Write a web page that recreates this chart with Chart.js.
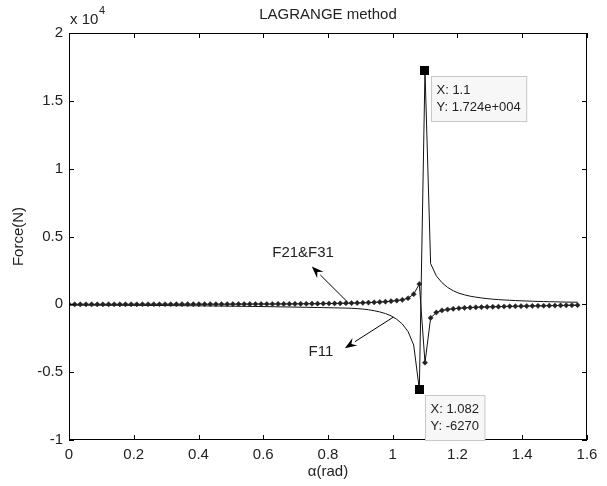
<!DOCTYPE html>
<html>
<head>
<meta charset="utf-8">
<script src="https://cdn.jsdelivr.net/npm/chart.js@4.4.1/dist/chart.umd.min.js"></script>
<style>
  html, body { margin: 0; padding: 0; background: #fff; }
</style>
</head>
<body>
<canvas id="lagrangeChart" width="607" height="486"></canvas>
<script>
// alpha in rad, one point per degree (0..90 deg)
const alpha = [
    0.0000, 0.0175, 0.0349, 0.0524, 0.0698, 0.0873, 0.1047, 0.1222, 0.1396, 0.1571,
    0.1745, 0.1920, 0.2094, 0.2269, 0.2443, 0.2618, 0.2793, 0.2967, 0.3142, 0.3316,
    0.3491, 0.3665, 0.3840, 0.4014, 0.4189, 0.4363, 0.4538, 0.4712, 0.4887, 0.5061,
    0.5236, 0.5411, 0.5585, 0.5760, 0.5934, 0.6109, 0.6283, 0.6458, 0.6632, 0.6807,
    0.6981, 0.7156, 0.7330, 0.7505, 0.7679, 0.7854, 0.8029, 0.8203, 0.8378, 0.8552,
    0.8727, 0.8901, 0.9076, 0.9250, 0.9425, 0.9599, 0.9774, 0.9948, 1.0123, 1.0297,
    1.0472, 1.0647, 1.0821, 1.0996, 1.1170, 1.1345, 1.1519, 1.1694, 1.1868, 1.2043,
    1.2217, 1.2392, 1.2566, 1.2741, 1.2915, 1.3090, 1.3265, 1.3439, 1.3614, 1.3788,
    1.3963, 1.4137, 1.4312, 1.4486, 1.4661, 1.4835, 1.5010, 1.5184, 1.5359, 1.5533,
    1.5708
];

// F11 (plain line)
const f11 = [
    -60, -61, -62, -63, -64, -66, -67, -69, -70, -72,
    -74, -76, -78, -80, -82, -85, -87, -90, -93, -96,
    -99, -102, -106, -110, -114, -118, -122, -127, -132, -137,
    -142, -147, -152, -158, -164, -170, -176, -183, -190, -197,
    -204, -211, -218, -226, -234, -242, -250, -259, -268, -278,
    -290, -315, -350, -400, -470, -560, -680, -850, -1100, -1450,
    -2000, -3000, -6270, 17240, 3000, 2100, 1600, 1250, 1000, 820,
    700, 600, 530, 470, 420, 380, 350, 320, 300, 280,
    260, 245, 230, 215, 205, 195, 185, 175, 165, 160,
    155
];

// F21 & F31 (line with markers)
const f21f31 = [
    0, 0, 0, 1, 1, 1, 2, 2, 2, 3,
    3, 4, 4, 5, 5, 6, 6, 7, 7, 8,
    8, 9, 10, 10, 11, 12, 13, 14, 15, 16,
    17, 18, 19, 21, 22, 24, 26, 28, 30, 33,
    36, 39, 42, 46, 50, 55, 60, 66, 73, 81,
    90, 101, 114, 129, 147, 170, 198, 232, 275, 330,
    450, 750, 1500, -4300, -1000, -600, -450, -380, -330, -290,
    -260, -240, -220, -205, -190, -180, -170, -160, -150, -142,
    -135, -128, -120, -112, -105, -98, -90, -82, -75, -68,
    -60
];

const xTickLabels = ['0', '0.2', '0.4', '0.6', '0.8', '1', '1.2', '1.4', '1.6'];
const yTickLabels = ['-1', '-0.5', '0', '0.5', '1', '1.5', '2'];

// data tips: [x, y, line1, line2]
const dataTips = [
    [1.0996, 17240, 'X: 1.1', 'Y: 1.724e+004'],
    [1.0821, -6270, 'X: 1.082', 'Y: -6270']
];

// text arrows: label, label position, arrow tail, arrow head (data units)
const arrowNotes = [
    { text: 'F21&F31', at: [0.723, 3790], from: [0.862, 130], to: [0.750, 2790] },
    { text: 'F11', at: [0.778, -3500], from: [1.002, -940], to: [0.852, -3230] }
];

const FONT = '"Liberation Sans", Arial, sans-serif';

function toXY(xs, ys) {
    return xs.map((v, i) => ({ x: v, y: ys[i] }));
}

function drawArrow(ctx, x1, y1, x2, y2) {
    const ang = Math.atan2(y2 - y1, x2 - x1);
    const len = 12, half = 4.5;
    const bx = x2 - len * Math.cos(ang), by = y2 - len * Math.sin(ang);
    ctx.beginPath();
    ctx.moveTo(x1, y1);
    ctx.lineTo(bx, by);
    ctx.stroke();
    ctx.beginPath();
    ctx.moveTo(x2, y2);
    ctx.lineTo(bx + half * Math.sin(ang), by - half * Math.cos(ang));
    ctx.lineTo(x2 - 0.65 * len * Math.cos(ang), y2 - 0.65 * len * Math.sin(ang));
    ctx.lineTo(bx - half * Math.sin(ang), by + half * Math.cos(ang));
    ctx.closePath();
    ctx.fill();
}

const decorations = {
    id: 'decorations',
    afterDraw(chart) {
        const { ctx, chartArea: a, scales: { x, y } } = chart;
        ctx.save();
        ctx.strokeStyle = '#000';
        ctx.fillStyle = '#000';
        ctx.lineWidth = 1;

        // axes box
        ctx.strokeRect(a.left + 0.5, a.top + 0.5, a.right - a.left - 1, a.bottom - a.top - 1);

        // inward ticks on all four sides
        ctx.beginPath();
        x.ticks.forEach(t => {
            const px = Math.round(x.getPixelForValue(t.value)) + 0.5;
            ctx.moveTo(px, a.bottom); ctx.lineTo(px, a.bottom - 5);
            ctx.moveTo(px, a.top); ctx.lineTo(px, a.top + 5);
        });
        y.ticks.forEach(t => {
            const py = Math.round(y.getPixelForValue(t.value)) + 0.5;
            ctx.moveTo(a.left, py); ctx.lineTo(a.left + 5, py);
            ctx.moveTo(a.right, py); ctx.lineTo(a.right - 5, py);
        });
        ctx.stroke();

        // title, exponent, axis labels
        ctx.fillStyle = '#222';
        ctx.textBaseline = 'middle';
        ctx.textAlign = 'center';
        ctx.font = '15px ' + FONT;
        ctx.fillText('LAGRANGE method', (a.left + a.right) / 2, 15);
        ctx.fillText('\u03b1(rad)', (a.left + a.right) / 2, 472);
        ctx.save();
        ctx.translate(19, (a.top + a.bottom) / 2);
        ctx.rotate(-Math.PI / 2);
        ctx.fillText('Force(N)', 0, 0);
        ctx.restore();
        ctx.textAlign = 'left';
        ctx.fillText('x 10', a.left + 1, 20);
        ctx.font = '11px ' + FONT;
        ctx.fillText('4', a.left + 30, 11);

        // arrows with labels
        ctx.fillStyle = '#000';
        ctx.strokeStyle = '#000';
        arrowNotes.forEach(n => {
            drawArrow(ctx,
                x.getPixelForValue(n.from[0]), y.getPixelForValue(n.from[1]),
                x.getPixelForValue(n.to[0]), y.getPixelForValue(n.to[1]));
            ctx.fillStyle = '#222';
            ctx.font = '15px ' + FONT;
            ctx.textAlign = 'center';
            ctx.fillText(n.text, x.getPixelForValue(n.at[0]), y.getPixelForValue(n.at[1]));
            ctx.fillStyle = '#000';
        });

        // data tips
        ctx.font = '13px ' + FONT;
        ctx.textAlign = 'left';
        dataTips.forEach(d => {
            const px = x.getPixelForValue(d[0]);
            const py = y.getPixelForValue(d[1]);
            const w = Math.max(ctx.measureText(d[2]).width, ctx.measureText(d[3]).width) + 11;
            const bx = Math.round(px + 6) + 0.5, by = Math.round(py + 6) + 0.5;
            ctx.fillStyle = '#f7f7f7';
            ctx.fillRect(bx, by, w, 45);
            ctx.strokeStyle = '#c8c8c8';
            ctx.strokeRect(bx, by, w, 45);
            ctx.fillStyle = '#222';
            ctx.fillText(d[2], bx + 5, by + 14);
            ctx.fillText(d[3], bx + 5, by + 31);
            ctx.fillStyle = '#000';
            ctx.fillRect(Math.round(px - 4.5), Math.round(py - 4.5), 9, 9);
        });
        ctx.restore();
    }
};

new Chart(document.getElementById('lagrangeChart'), {
    type: 'scatter',
    data: {
        datasets: [
            {
                label: 'F21&F31',
                data: toXY(alpha, f21f31),
                showLine: true,
                borderColor: '#111',
                borderWidth: 1,
                pointStyle: 'rectRot',
                pointRadius: 2.6,
                pointBorderWidth: 0.5,
                pointBackgroundColor: '#222',
                pointBorderColor: '#222'
            },
            {
                label: 'F11',
                data: toXY(alpha, f11),
                showLine: true,
                borderColor: '#111',
                borderWidth: 1,
                pointRadius: 0
            }
        ]
    },
    options: {
        responsive: false,
        animation: false,
        layout: { padding: { top: 33, right: 20, left: 0, bottom: 0 } },
        plugins: {
            legend: { display: false },
            tooltip: { enabled: false }
        },
        scales: {
            x: {
                type: 'linear',
                min: 0,
                max: 1.6,
                afterFit: s => { s.height = 46; },
                grid: { display: false, drawTicks: false },
                border: { display: false },
                ticks: {
                    stepSize: 0.2,
                    padding: 6,
                    maxRotation: 0,
                    autoSkip: false,
                    color: '#222',
                    font: { family: FONT, size: 15 },
                    callback: (v, i) => xTickLabels[i]
                }
            },
            y: {
                type: 'linear',
                min: -10000,
                max: 20000,
                afterFit: s => { s.width = 69; },
                grid: { display: false, drawTicks: false },
                border: { display: false },
                ticks: {
                    stepSize: 5000,
                    padding: 6,
                    color: '#222',
                    font: { family: FONT, size: 15 },
                    callback: (v, i) => yTickLabels[i]
                }
            }
        }
    },
    plugins: [decorations]
});
</script>
</body>
</html>
